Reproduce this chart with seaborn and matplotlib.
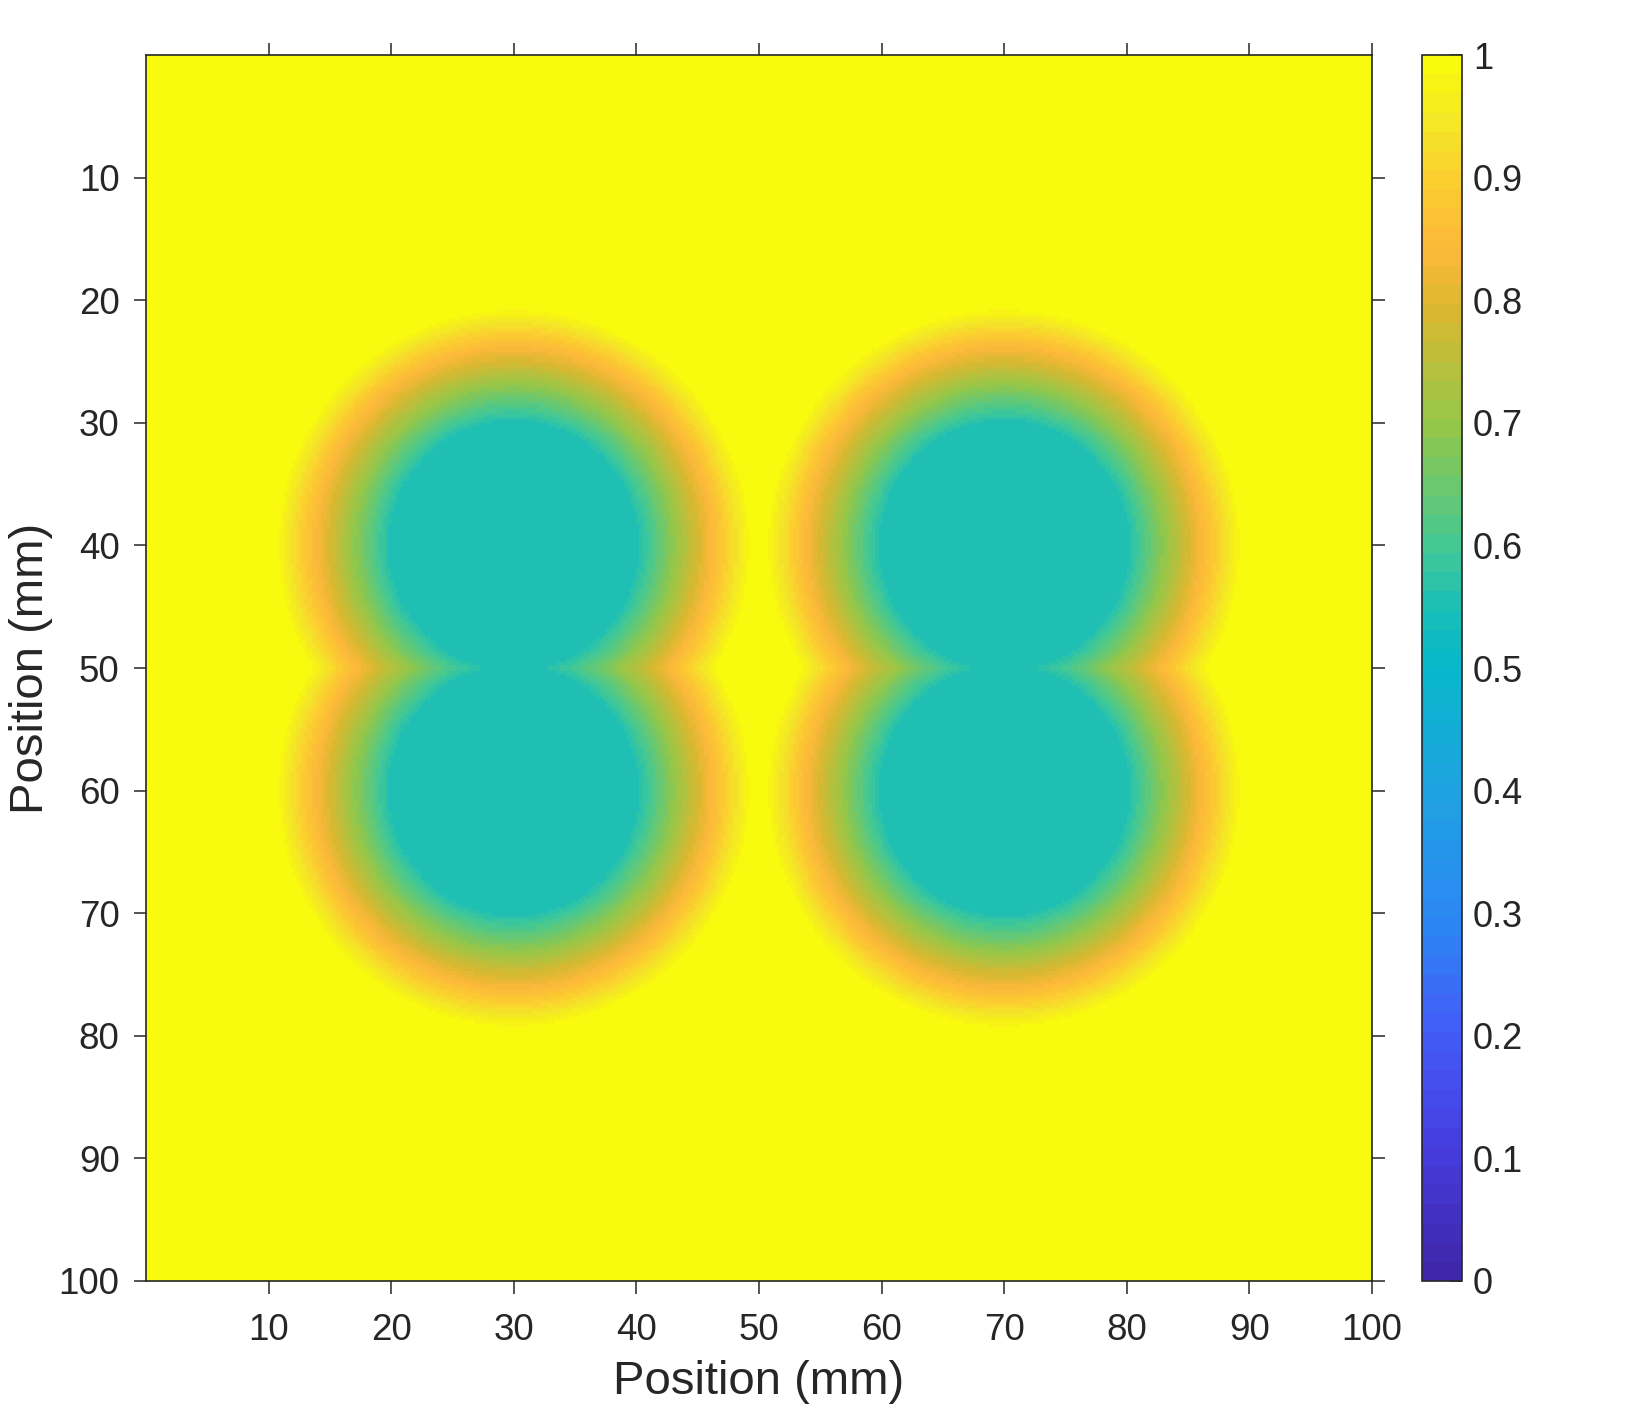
import numpy as np
import seaborn as sns
from matplotlib import pyplot as plt
from matplotlib.colors import LinearSegmentedColormap, ListedColormap

sns.set_theme(style="white")
plt.rcParams["font.family"] = ["Liberation Sans", "DejaVu Sans"]

# four circular dips: centres (mm), plateau level and ramp radii
centre_x = [30, 30, 70, 70]
centre_y = [40, 60, 40, 60]
plateau_value = 0.55
inner_radius = 10.0
outer_radius = 19.5
background_value = 1.0

x_ticks = [10, 20, 30, 40, 50, 60, 70, 80, 90, 100]
y_ticks = [10, 20, 30, 40, 50, 60, 70, 80, 90, 100]
cbar_ticks = [0, 0.1, 0.2, 0.3, 0.4, 0.5, 0.6, 0.7, 0.8, 0.9, 1.0]

# parula-like colormap, 64 levels as in the reference colorbar
parula_anchors = [
    (0.00, (0.242, 0.150, 0.660)),
    (0.10, (0.272, 0.235, 0.870)),
    (0.20, (0.262, 0.365, 0.975)),
    (0.30, (0.165, 0.540, 0.950)),
    (0.40, (0.120, 0.640, 0.880)),
    (0.50, (0.020, 0.720, 0.795)),
    (0.55, (0.100, 0.750, 0.720)),
    (0.60, (0.260, 0.785, 0.590)),
    (0.70, (0.580, 0.780, 0.290)),
    (0.80, (0.860, 0.720, 0.190)),
    (0.85, (0.990, 0.720, 0.230)),
    (0.90, (0.990, 0.800, 0.190)),
    (0.95, (0.955, 0.900, 0.150)),
    (1.00, (0.976, 0.983, 0.054)),
]
smooth = LinearSegmentedColormap.from_list("parula", parula_anchors)
cmap = ListedColormap(smooth(np.linspace(0, 1, 64)))

step = 0.25
coords = np.arange(0, 100, step) + step / 2
X, Y = np.meshgrid(coords, coords)
dist = np.min(
    [np.hypot(X - cx, Y - cy) for cx, cy in zip(centre_x, centre_y)], axis=0
)
frac = np.clip((dist - inner_radius) / (outer_radius - inner_radius), 0, 1)
field = plateau_value + (background_value - plateau_value) * frac

fig = plt.figure(figsize=(16.48, 14.08), dpi=100)
ax = fig.add_axes([0.0886, 0.0902, 0.7439, 0.8707])
cax = fig.add_axes([0.8629, 0.0902, 0.0242, 0.8707])

sns.heatmap(
    field, ax=ax, cmap=cmap, vmin=0, vmax=1, cbar_ax=cax,
    xticklabels=False, yticklabels=False, rasterized=True,
    cbar_kws={"ticks": cbar_ticks},
)

text_col = (0.15, 0.15, 0.15)
ax.set_xticks(np.array(x_ticks) / step)
ax.set_xticklabels([str(t) for t in x_ticks])
ax.set_yticks(np.array(y_ticks) / step)
ax.set_yticklabels([str(t) for t in y_ticks])
for s in ax.spines.values():
    s.set_visible(True)
    s.set_color(text_col)
    s.set_linewidth(1.2)
ax.tick_params(axis="both", direction="out", length=9, width=1.1,
               color=text_col, labelcolor=text_col, labelsize=26.5,
               top=True, right=True, bottom=True, left=True)
ax.tick_params(axis="x", pad=14)
ax.tick_params(axis="y", pad=10)
ax.set_xlabel("Position (mm)", fontsize=34, color=text_col, labelpad=9)
ax.set_ylabel("Position (mm)", fontsize=34, color=text_col, labelpad=4)

cbar = ax.collections[0].colorbar
cbar.outline.set_visible(True)
cbar.outline.set_linewidth(1.2)
cbar.outline.set_edgecolor(text_col)
cbar.set_ticklabels([f"{t:g}" for t in cbar_ticks])
cax.tick_params(direction="in", length=9, width=1.1, color=text_col,
                labelcolor=text_col, labelsize=26, pad=8)

fig.savefig("out.png", dpi=100)
